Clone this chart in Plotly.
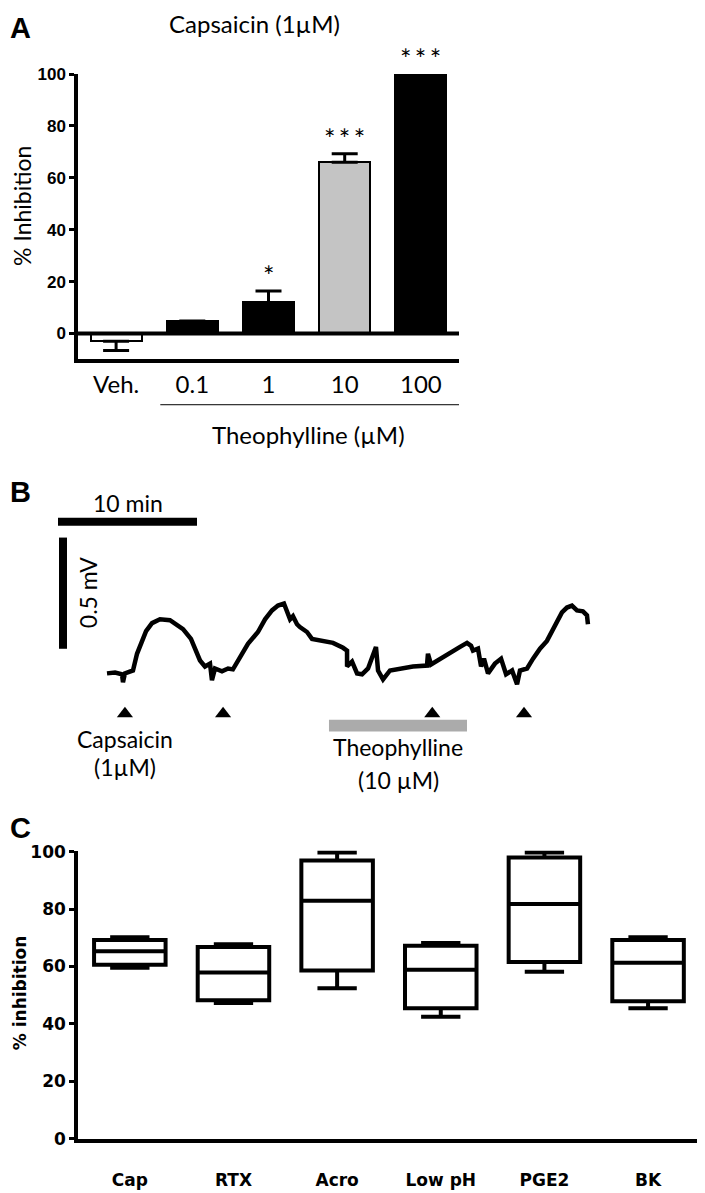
import plotly.graph_objects as go

W, H = 705, 1193
OFF = 8  # the page body margin shifts the figure by 8 px; compensate


def px(x):
    return (x - OFF) / W


def py(y):
    return 1 - (y - OFF) / H


# ---------------- Panel A data ----------------
a_categories = ["Veh.", "0.1", "1", "10", "100"]
a_values = [-3.0, 4.8, 12.0, 66.0, 100.0]
a_err_plus = [0.0, None, 4.4, 3.3, None]
a_err_minus = [3.5, None, 0.0, 0.0, None]
a_stars = ["", "", "*", "*\u2009*\u2009*", "*\u2009*\u2009*"]
a_yticks = [0, 20, 40, 60, 80, 100]

# ---------------- Panel B data ----------------
trace_t = [0.00, 0.58, 1.08, 1.15, 1.29, 1.87, 2.16, 2.45, 2.81, 3.24, 3.81, 4.53, 5.47, 6.04,
           6.40, 6.69, 7.05, 7.41, 7.55, 7.77, 8.27, 8.71, 9.06, 9.57, 10.14, 10.86, 11.37,
           11.87, 12.30, 12.73, 12.95, 13.17, 13.38, 13.67, 13.88, 14.39, 14.75, 15.32, 16.26,
           16.98, 17.27, 17.27, 17.63, 17.99, 18.35, 18.78, 19.35, 19.50, 19.86, 20.36, 21.08,
           22.01, 23.02, 23.09, 23.31, 23.96, 24.68, 25.40, 25.90, 26.19, 26.33, 26.69, 26.91,
           27.12, 27.41, 27.91, 28.35, 28.71, 29.14, 29.50, 29.71, 30.22, 30.65, 31.15, 31.65,
           32.09, 32.37, 32.73, 33.09, 33.45, 33.81, 34.24, 34.53, 34.60]
trace_mv = [0.000, 0.004, -0.004, -0.040, 0.000, 0.013, 0.088, 0.133, 0.190, 0.226, 0.243,
            0.239, 0.199, 0.155, 0.102, 0.058, 0.031, 0.044, -0.031, 0.022, 0.009, 0.022,
            0.018, 0.075, 0.133, 0.186, 0.243, 0.283, 0.305, 0.314, 0.279, 0.243, 0.257,
            0.221, 0.208, 0.186, 0.155, 0.150, 0.137, 0.115, 0.102, 0.031, 0.053, 0.000,
            -0.004, 0.022, 0.119, 0.013, -0.027, 0.013, 0.022, 0.031, 0.035, 0.088, 0.040,
            0.066, 0.093, 0.119, 0.137, 0.124, 0.102, 0.111, 0.031, 0.066, 0.000, 0.044,
            0.066, -0.004, 0.013, -0.049, 0.013, 0.022, 0.066, 0.111, 0.146, 0.199, 0.235,
            0.274, 0.296, 0.305, 0.283, 0.279, 0.261, 0.221]
stim_t = [1.29, 8.35, 23.4, 30.0]
theo_start, theo_end = 15.97, 25.9
scale_min = 10.0
scale_mv = 0.5

# ---------------- Panel C data ----------------
c_categories = ["Cap", "RTX", "Acro", "Low pH", "PGE2", "BK"]
c_min = [59.6, 47.3, 52.4, 42.5, 58.2, 45.5]
c_q1 = [60.6, 48.3, 58.6, 45.5, 61.6, 47.9]
c_median = [65.3, 57.9, 82.9, 58.9, 81.8, 61.3]
c_q3 = [69.2, 66.8, 96.9, 67.2, 98.0, 69.2]
c_max = [70.2, 67.8, 99.7, 68.2, 99.7, 70.2]
c_yticks = [0, 20, 40, 60, 80, 100]

# ---------------- styles ----------------
a_fill = ["white", "black", "black", "#c4c4c4", "black"]
CAL = "Lato, Open Sans, sans-serif"
ARB = "Liberation Sans, Arial, sans-serif"
DJB = "DejaVu Sans, Liberation Sans, sans-serif"

# pixel <-> data mapping for panel B (px per minute, px per mV)
PX_MIN = 13.9
PX_MV = 226.0
B_X0 = 107.0  # pixel x of t=0
B_Y0 = 675.0  # pixel y of 0 mV


def bt(x):
    return (x - B_X0) / PX_MIN


def bv(y):
    return (B_Y0 - y) / PX_MV


fig = go.Figure()

# Panel A bars
fig.add_trace(go.Bar(
    x=a_categories, y=a_values, width=0.67,
    marker=dict(color=a_fill, line=dict(color="black", width=2)),
    error_y=dict(type="data", symmetric=False, array=a_err_plus, arrayminus=a_err_minus,
                 color="black", thickness=3, width=13),
    xaxis="x", yaxis="y", showlegend=False,
))

# Panel B trace
fig.add_trace(go.Scatter(
    x=trace_t, y=trace_mv, mode="lines",
    line=dict(color="black", width=4.5),
    xaxis="x2", yaxis="y2", showlegend=False,
))
fig.add_trace(go.Scatter(
    x=stim_t, y=[bv(716)] * len(stim_t), mode="markers",
    marker=dict(symbol="triangle-up", size=14, color="black"),
    xaxis="x2", yaxis="y2", showlegend=False,
))

# Panel C boxes
fig.add_trace(go.Box(
    x=c_categories, q1=c_q1, median=c_median, q3=c_q3,
    lowerfence=c_min, upperfence=c_max,
    fillcolor="white", line=dict(color="black", width=4),
    whiskerwidth=0.55, width=0.69, boxpoints=False,
    xaxis="x3", yaxis="y3", showlegend=False,
))

shapes = []
# zero line panel A
shapes.append(dict(type="line", xref="x", yref="y", x0=-0.5, x1=4.5, y0=0, y1=0,
                   line=dict(color="black", width=4), layer="above"))
# theophylline underline panel A
shapes.append(dict(type="line", xref="x", yref="paper", x0=0.58, x1=4.5,
                   y0=py(402), y1=py(402), line=dict(color="black", width=1)))
# scale bars panel B
sb_t0 = bt(58)
sb_v = bv(521)
shapes.append(dict(type="line", xref="x2", yref="y2", x0=sb_t0, x1=sb_t0 + scale_min,
                   y0=sb_v, y1=sb_v, line=dict(color="black", width=8)))
vb_t = bt(63)
vb_v0 = bv(650)
shapes.append(dict(type="line", xref="x2", yref="y2", x0=vb_t, x1=vb_t,
                   y0=vb_v0, y1=vb_v0 + scale_mv, line=dict(color="black", width=8)))
# theophylline bar panel B
shapes.append(dict(type="rect", xref="x2", yref="y2", x0=theo_start, x1=theo_end,
                   y0=bv(734), y1=bv(722), fillcolor="#ababab", line=dict(width=0)))

annotations = []


def ann(text, x, y, size, family=CAL, xref="paper", yref="paper", angle=0,
        weight="normal", xanchor="center", yanchor="middle", yshift=0):
    annotations.append(dict(text=text, x=x, y=y, xref=xref, yref=yref, showarrow=False,
                            textangle=angle, xanchor=xanchor, yanchor=yanchor, yshift=yshift,
                            font=dict(family=family, size=size, color="black", weight=weight)))


ann("A", px(OFF), py(19), 29, family=ARB, weight="bold", xanchor="left")
ann("Capsaicin (1µM)", px(254), py(15), 24)
ann("% Inhibition", px(22), py(200), 23, angle=-90)
ann("Theophylline (µM)", px(308), py(432), 24)
for i, s in enumerate(a_stars):
    if s:
        top = a_values[i] + (a_err_plus[i] or 0)
        ann(s, i, top, 27, xref="x", yref="y", yanchor="bottom", yshift=-3)

ann("B", px(OFF), py(491), 29, family=ARB, weight="bold", xanchor="left")
ann("10 min", sb_t0 + scale_min / 2, sb_v, 23, xref="x2", yref="y2", yshift=19)
ann("0.5 mV", bt(88), vb_v0 + scale_mv / 2, 23, xref="x2", yref="y2", angle=-90)
ann("Capsaicin", stim_t[0], bv(742), 23, xref="x2", yref="y2")
ann("(1µM)", stim_t[0], bv(770), 23, xref="x2", yref="y2")
ann("Theophylline", (theo_start + theo_end) / 2, bv(750), 23, xref="x2", yref="y2")
ann("(10 µM)", (theo_start + theo_end) / 2, bv(783), 23, xref="x2", yref="y2")

ann("C", px(OFF), py(832), 29, family=ARB, weight="bold", xanchor="left")
ann("% inhibition", px(20), py(1000), 17, family=DJB, angle=-90, weight="bold")

fig.update_layout(
    width=W, height=H, margin=dict(l=0, r=0, t=0, b=0),
    paper_bgcolor="white", plot_bgcolor="white", showlegend=False,
    shapes=shapes, annotations=annotations,
    bargap=0,
    # Panel A
    xaxis=dict(domain=[px(78), px(459)], range=[-0.5, 4.5], type="category",
               showline=True, linecolor="black", linewidth=4, ticks="",
               showgrid=False, zeroline=False, ticklabelstandoff=1,
               tickfont=dict(family=CAL, size=24, color="black"), anchor="y", fixedrange=True),
    yaxis=dict(domain=[py(356), py(66)], range=[-10, 100], tickvals=a_yticks,
               showline=True, linecolor="black", linewidth=3.5, ticks="outside",
               ticklen=5, tickwidth=3, tickcolor="black", showgrid=False, zeroline=False,
               tickfont=dict(family="Liberation Sans Narrow, " + ARB, size=17, color="black",
                             weight="bold"), anchor="x"),
    # Panel B
    xaxis2=dict(domain=[px(OFF), px(705)], range=[bt(OFF), bt(705)], visible=False,
                anchor="y2"),
    yaxis2=dict(domain=[py(800), py(470)], range=[bv(800), bv(470)], visible=False,
                anchor="x2"),
    # Panel C
    xaxis3=dict(domain=[px(78), px(703)], range=[-0.5, 5.53], type="category",
                showline=True, linecolor="black", linewidth=3.5, ticks="",
                showgrid=False, zeroline=False, ticklabelstandoff=23,
                tickfont=dict(family=DJB, size=17, color="black", weight="bold"), anchor="y3"),
    yaxis3=dict(domain=[py(1148), py(855)], range=[0, 100.4], tickvals=c_yticks,
                showline=True, linecolor="black", linewidth=3.5, ticks="outside",
                ticklen=5, tickwidth=3, tickcolor="black", showgrid=False, zeroline=False,
                tickfont=dict(family=DJB, size=17, color="black", weight="bold"), anchor="x3"),
)

fig.write_html("out.html")
